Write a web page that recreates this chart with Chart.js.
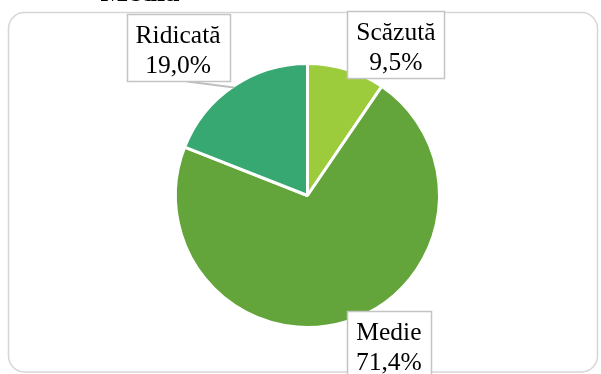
<!DOCTYPE html>
<html>
<head>
<meta charset="utf-8">
<style>
  html, body { margin: 0; padding: 0; background: #ffffff; }
  #wrap { width: 601px; height: 374px; position: relative; }
</style>
<script src="https://cdn.jsdelivr.net/npm/chart.js@4.4.1/dist/chart.umd.min.js"></script>
</head>
<body>
<div id="wrap"><canvas id="pie" width="601" height="374"></canvas></div>
<script>
// Distribution of levels (percent of respondents)
const categories = ['Scăzută', 'Medie', 'Ridicată'];
const shares = [9.5, 71.4, 19.0];
const sliceColors = ['#9ccb3b', '#63a53a', '#37a872'];
const chartTitle = 'Media';

// Where each callout box sits, relative to the slice's outer edge midpoint
const calloutOffsets = [[50, -26], [43, 24], [-56, -40]];
const calloutLeader = [false, false, true];

const FONT = '"Liberation Serif", "Times New Roman", serif';

function fmtPct(v) {
  return v.toFixed(1).replace('.', ',') + '%';
}

function roundRect(ctx, x, y, w, h, r) {
  ctx.beginPath();
  ctx.moveTo(x + r, y);
  ctx.lineTo(x + w - r, y);
  ctx.arcTo(x + w, y, x + w, y + r, r);
  ctx.lineTo(x + w, y + h - r);
  ctx.arcTo(x + w, y + h, x + w - r, y + h, r);
  ctx.lineTo(x + r, y + h);
  ctx.arcTo(x, y + h, x, y + h - r, r);
  ctx.lineTo(x, y + r);
  ctx.arcTo(x, y, x + r, y, r);
  ctx.closePath();
}

const framePlugin = {
  id: 'frame',
  beforeDraw(chart) {
    const ctx = chart.ctx;
    ctx.save();
    ctx.fillStyle = '#ffffff';
    ctx.fillRect(0, 0, chart.width, chart.height);
    roundRect(ctx, 8.5, 12.5, 589, 359.5, 16);
    ctx.strokeStyle = '#d6d6d6';
    ctx.lineWidth = 1.5;
    ctx.stroke();
    // title, mostly above the visible area
    ctx.fillStyle = '#000000';
    ctx.font = 'bold 29px ' + FONT;
    ctx.textAlign = 'center';
    ctx.textBaseline = 'alphabetic';
    ctx.fillText(chartTitle, 140, 1);
    ctx.restore();
  }
};

const calloutPlugin = {
  id: 'callouts',
  afterDatasetsDraw(chart) {
    const ctx = chart.ctx;
    const meta = chart.getDatasetMeta(0);
    const data = chart.data.datasets[0].data;
    ctx.save();
    ctx.font = '25.5px ' + FONT;
    meta.data.forEach((arc, i) => {
      const p = arc.getProps(['x', 'y', 'startAngle', 'endAngle', 'outerRadius'], true);
      const mid = (p.startAngle + p.endAngle) / 2;
      const r = p.outerRadius - 1.5;
      const ex = p.x + Math.cos(mid) * r;
      const ey = p.y + Math.sin(mid) * r;
      const cx = ex + calloutOffsets[i][0];
      const cy = ey + calloutOffsets[i][1];
      const line1 = chart.data.labels[i];
      const line2 = fmtPct(data[i]);
      const tw = Math.max(ctx.measureText(line1).width, ctx.measureText(line2).width);
      const bw = Math.round(tw + 18);
      const bh = 67;
      const bx = Math.round(cx - bw / 2) + 0.5;
      const by = Math.round(cy - bh / 2) + 0.5;

      if (calloutLeader[i]) {
        ctx.beginPath();
        ctx.moveTo(ex, ey);
        ctx.lineTo(cx + 9, by + bh);
        ctx.strokeStyle = '#bfbfbf';
        ctx.lineWidth = 2;
        ctx.stroke();
      }

      ctx.fillStyle = '#ffffff';
      ctx.fillRect(bx, by, bw, bh);
      ctx.strokeStyle = '#c4c4c4';
      ctx.lineWidth = 1.5;
      ctx.strokeRect(bx, by, bw, bh);

      ctx.fillStyle = '#000000';
      ctx.textAlign = 'center';
      ctx.textBaseline = 'alphabetic';
      ctx.fillText(line1, cx, by + 28);
      ctx.fillText(line2, cx, by + 58);
    });
    ctx.restore();
  }
};

new Chart(document.getElementById('pie'), {
  type: 'pie',
  data: {
    labels: categories,
    datasets: [{
      data: shares,
      backgroundColor: sliceColors,
      borderColor: '#ffffff',
      borderWidth: 3,
      hoverBorderWidth: 3,
      hoverOffset: 0,
      offset: 0
    }]
  },
  options: {
    responsive: false,
    devicePixelRatio: 1,
    animation: false,
    events: [],
    layout: {
      padding: { top: 62, bottom: 45, left: 167, right: 153 }
    },
    plugins: {
      legend: { display: false },
      tooltip: { enabled: false },
      title: { display: false }
    }
  },
  plugins: [framePlugin, calloutPlugin]
});
</script>
</body>
</html>
